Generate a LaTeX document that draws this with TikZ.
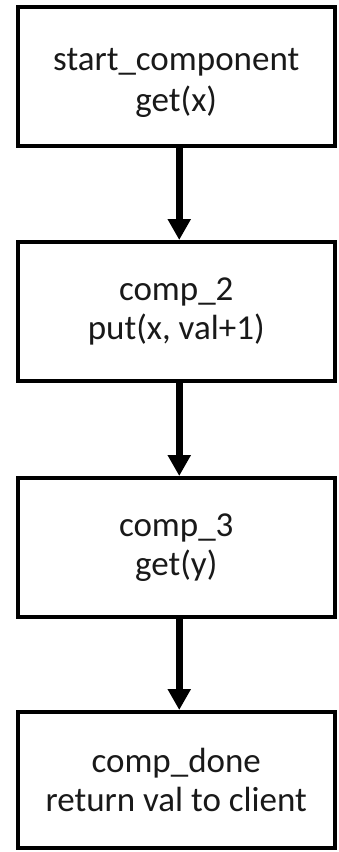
\documentclass[tikz,border=0pt]{standalone}
\usepackage{fontspec}
\setmainfont{Carlito}
\usetikzlibrary{arrows.meta}
\begin{document}
\begin{tikzpicture}[x=1pt,y=-1pt,
  stagebox/.style={draw=black, line width=4pt, fill=white, minimum width=317.5pt,
    align=center, inner sep=0pt, font=\fontsize{35}{39}\selectfont, text=black!90},
  flow/.style={line width=6.5pt, -{Triangle[width=22pt,length=21pt]}}]
  \useasboundingbox (0,0) rectangle (338,852);
  \node[stagebox, minimum height=139pt] (s1) at (176.25,76.5) {\rule{0pt}{36pt}start\_component\\[2pt]get(x)};
  \node[stagebox, minimum height=139pt] (s2) at (176.25,311.5) {comp\_2\\put(x, val+1)};
  \node[stagebox, minimum height=139pt] (s3) at (176.25,547.5) {comp\_3\\get(y)};
  \node[stagebox, minimum height=136pt] (s4) at (176.25,780) {comp\_done\\return val to client};
  \draw[flow] (s1.south) ++(3,0) coordinate (a1) (a1) -- (a1 |- s2.north);
  \draw[flow] (s2.south) ++(3,0) coordinate (a2) (a2) -- (a2 |- s3.north);
  \draw[flow] (s3.south) ++(3,0) coordinate (a3) (a3) -- (a3 |- s4.north);
\end{tikzpicture}
\end{document}
